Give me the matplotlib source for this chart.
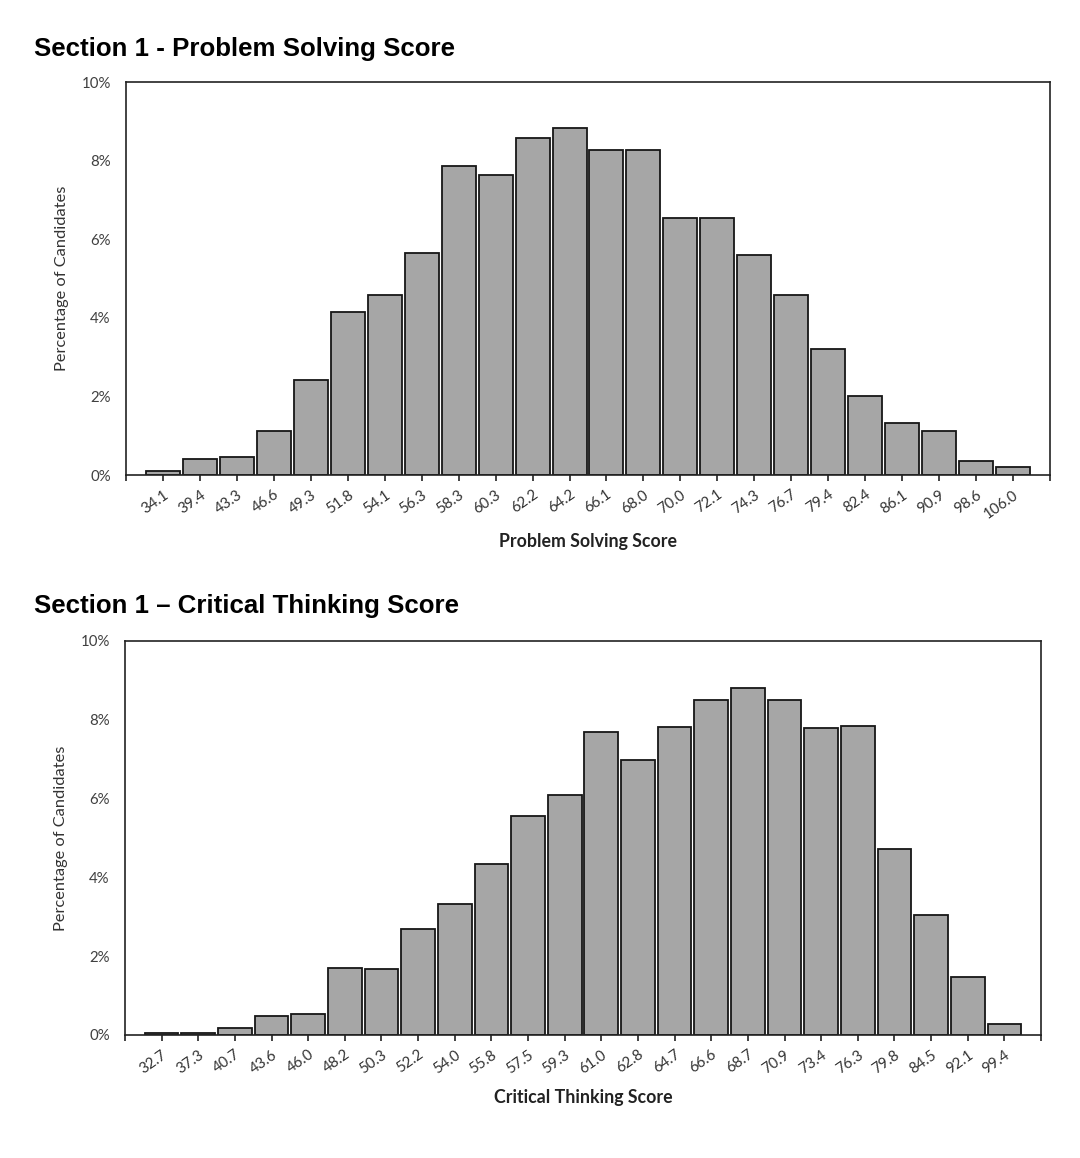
"""Two score histograms (problem solving / critical thinking), Excel-style."""
import matplotlib
matplotlib.use("Agg")
import matplotlib.pyplot as plt
from matplotlib.ticker import FuncFormatter

plt.rcParams.update({
    "font.family": ["Lato", "DejaVu Sans"],
    "font.size": 11,
})

# ------------------------------------------------------------------ data
ps_scores = ["34.1", "39.4", "43.3", "46.6", "49.3", "51.8", "54.1", "56.3",
             "58.3", "60.3", "62.2", "64.2", "66.1", "68.0", "70.0", "72.1",
             "74.3", "76.7", "79.4", "82.4", "86.1", "90.9", "98.6", "106.0"]
ps_pct = [0.11, 0.41, 0.46, 1.12, 2.42, 4.15, 4.57, 5.65,
          7.87, 7.63, 8.57, 8.82, 8.28, 8.27, 6.55, 6.53,
          5.60, 4.58, 3.21, 2.01, 1.33, 1.12, 0.35, 0.20]

ct_scores = ["32.7", "37.3", "40.7", "43.6", "46.0", "48.2", "50.3", "52.2",
             "54.0", "55.8", "57.5", "59.3", "61.0", "62.8", "64.7", "66.6",
             "68.7", "70.9", "73.4", "76.3", "79.8", "84.5", "92.1", "99.4"]
ct_pct = [0.05, 0.05, 0.18, 0.49, 0.54, 1.70, 1.67, 2.69,
          3.33, 4.35, 5.55, 6.08, 7.70, 6.97, 7.82, 8.51,
          8.80, 8.51, 7.78, 7.85, 4.71, 3.04, 1.47, 0.27]

y_ticks = [0, 2, 4, 6, 8, 10]

BAR = "#a6a6a6"
EDGE = "#161616"
TICK_C = "#404040"

W, H = 1080, 1158
fig = plt.figure(figsize=(W / 100, H / 100), dpi=100)


def panel(rect, labels, values, xlabel):
    ax = fig.add_axes(rect)
    xs = list(range(len(labels)))
    ax.bar(xs, values, width=0.92, color=BAR, edgecolor=EDGE, lw=1.3,
           zorder=2)
    ax.set_xlim(-1, len(labels))
    ax.set_ylim(0, 10)
    ax.set_yticks(y_ticks)
    ax.yaxis.set_major_formatter(FuncFormatter(lambda v, _: f"{v:.0f}%"))
    ax.tick_params(axis="y", length=0, pad=11, labelsize=10.8,
                   labelcolor=TICK_C)
    # ticks at each category plus the two outer edges
    ax.set_xticks([-1] + xs + [len(labels)])
    ax.set_xticklabels([""] + labels + [""])
    ax.tick_params(axis="x", length=4, width=1.2, direction="out",
                   color="#222222", pad=5, labelsize=10.8,
                   labelcolor="#333333")
    for t in ax.get_xticklabels():
        t.set_rotation(35)
        t.set_ha("right")
        t.set_va("top")
        t.set_rotation_mode("anchor")
    for s in ax.spines.values():
        s.set_linewidth(1.2)
        s.set_color("#222222")
    ax.set_xlabel(xlabel, fontsize=12.8, fontweight="bold", color="#222222",
                  labelpad=9)
    ax.set_ylabel("Percentage of Candidates", fontsize=11.8, color="#333333",
                  labelpad=9)
    return ax


panel([126 / W, 1 - 475 / H, 924 / W, 393 / H], ps_scores, ps_pct,
      "Problem Solving Score")
panel([125 / W, 1 - 1035 / H, 916 / W, 394 / H], ct_scores, ct_pct,
      "Critical Thinking Score")

title_kw = dict(fontsize=18.6, fontweight="bold", va="center", ha="left",
                family=["Liberation Sans", "DejaVu Sans"])
fig.text(34 / W, 1 - 49 / H, "Section 1 - Problem Solving Score", **title_kw)
fig.text(34 / W, 1 - 606 / H, "Section 1 \u2013 Critical Thinking Score",
         **title_kw)

fig.savefig("out.png", dpi=100)
plt.close(fig)
